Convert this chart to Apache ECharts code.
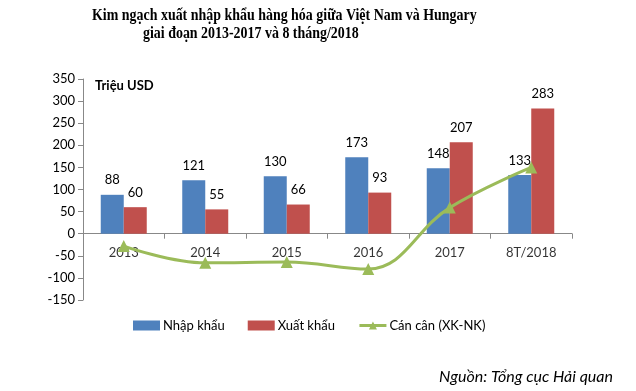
<!DOCTYPE html>
<html><head><meta charset="utf-8">
<script src="https://cdn.jsdelivr.net/npm/echarts@6/dist/echarts.min.js"></script>
<style>html,body{margin:0;padding:0;background:#fff}#c{width:636px;height:391px}</style>
</head><body><div id="c"></div>
<script>
const categories = ['2013','2014','2015','2016','2017','8T/2018'];
const importVals = [88,121,130,173,148,133];
const exportVals = [60,55,66,93,207,283];
const balanceVals = [-28,-66,-64,-80,59,150];
const yTicks = {min:-150,max:350,interval:50};
const FONT = 'Lato';
const chart = echarts.init(document.getElementById('c'));
chart.setOption({
  animation:false,
  graphic:[
    {type:'text',x:92,y:16,scaleX:0.82,style:{text:'Kim ngạch xuất nhập khẩu hàng hóa giữa Việt Nam và Hungary',font:'bold 17px "Liberation Serif"',fill:'#000',textVerticalAlign:'middle'}},
    {type:'text',x:143,y:34,scaleX:0.82,style:{text:'giai đoạn 2013-2017 và 8 tháng/2018',font:'bold 17px "Liberation Serif"',fill:'#000',textVerticalAlign:'middle'}}
  ],
  title:[
    {text:'Triệu USD',left:90,top:74,textStyle:{fontFamily:FONT,fontWeight:'bold',fontSize:13,color:'#000'}},
    {text:'Nguồn: Tổng cục Hải quan',right:18,top:364,textStyle:{fontFamily:FONT,fontStyle:'italic',fontWeight:'normal',fontSize:16,color:'#000'}}
  ],
  grid:{left:83,right:64,top:79,bottom:91},
  legend:{top:314,left:128,itemWidth:27,itemHeight:10,itemGap:23,
    lineStyle:{width:3},
    textStyle:{fontFamily:FONT,fontSize:13,color:'#000',padding:[0,0,0,-2]},
    data:[{name:'Nhập khẩu',icon:'rect',itemStyle:{borderWidth:0}},{name:'Xuất khẩu',icon:'rect'},
      {name:'Cán cân (XK-NK)'}]},
  xAxis:{type:'category',data:categories,
    axisLine:{onZero:true,lineStyle:{color:'#888'}},
    axisTick:{show:true,length:5,lineStyle:{color:'#888'}},
    axisLabel:{show:false}},
  yAxis:{type:'value',min:yTicks.min,max:yTicks.max,interval:yTicks.interval,
    splitLine:{show:false},
    axisLine:{show:true,lineStyle:{color:'#888'}},
    axisTick:{show:true,length:5,lineStyle:{color:'#888'}},
    axisLabel:{fontFamily:FONT,fontSize:13,color:'#000',margin:8}},
  series:[
    {name:'Nhập khẩu',type:'bar',data:importVals,barWidth:23,barGap:'0%',
      itemStyle:{color:'#4F81BD'},
      label:{show:true,position:'top',distance:8,fontFamily:FONT,fontSize:13,color:'#000'}},
    {name:'Xuất khẩu',type:'bar',data:exportVals,barWidth:23,
      itemStyle:{color:'#C0504D'},
      label:{show:true,position:'top',distance:8,fontFamily:FONT,fontSize:13,color:'#000'}},
    {name:'catLabels',type:'scatter',data:categories.map(c=>[c,0]),symbolSize:0,silent:true,z:1,
      label:{show:true,position:'bottom',distance:13,formatter:p=>p.data[0],fontFamily:FONT,fontSize:13,color:'#000'}},
    {name:'Cán cân (XK-NK)',type:'line',data:balanceVals,smooth:0.4,
      symbol:'triangle',symbolSize:12,
      lineStyle:{color:'#9BBB59',width:3},itemStyle:{color:'#9BBB59'},z:5}
  ]
});
</script></body></html>
